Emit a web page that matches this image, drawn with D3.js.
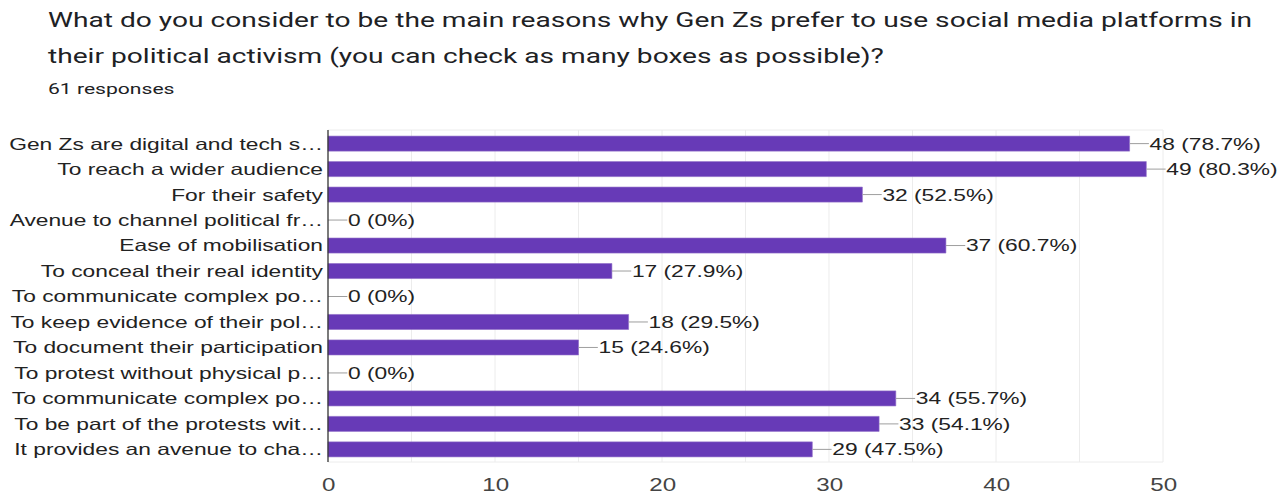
<!DOCTYPE html>
<html>
<head>
<meta charset="utf-8">
<script src="https://cdn.jsdelivr.net/npm/d3@7"></script>
<style>
  html, body { margin: 0; padding: 0; background: #fff; }
  svg { display: block; }
</style>
</head>
<body>
<svg id="chart"></svg>
<script>

// question text and response count
let title_lines = [
    "What do you consider to be the main reasons why Gen Zs prefer to use social media platforms in",
    "their political activism (you can check as many boxes as possible)?"
];
let responses_label = "61 responses";

// categories as they show on the chart (truncated ones keep the ellipsis)
let categories = [
    "Gen Zs are digital and tech s…",
    "To reach a wider audience",
    "For their safety",
    "Avenue to channel political fr…",
    "Ease of mobilisation",
    "To conceal their real identity",
    "To communicate complex po…",
    "To keep evidence of their pol…",
    "To document their participation",
    "To protest without physical p…",
    "To communicate complex po…",
    "To be part of the protests wit…",
    "It provides an avenue to cha…"
];
let counts = [48, 49, 32, 0, 37, 17, 0, 18, 15, 0, 34, 33, 29];
let percents = ["78.7%", "80.3%", "52.5%", "0%", "60.7%", "27.9%", "0%", "29.5%", "24.6%", "0%", "55.7%", "54.1%", "47.5%"];
let x_ticks = [0, 10, 20, 30, 40, 50];

const W = 1286, H = 495;
// the screenshot is stretched sideways, so draw in a narrower box and let the svg stretch it
const sx = 1.38;
const VW = W / sx;

let svg = d3.select("#chart")
    .attr("width", W)
    .attr("height", H)
    .attr("viewBox", "0 0 " + VW + " " + H)
    .attr("preserveAspectRatio", "none");

let rows = categories.map((c, i) => ({key: i, label: c, value: counts[i], pct: percents[i]}));

// scales
let x = d3.scaleLinear()
    .domain([0, 50])
    .range([328 / sx, 1163 / sx]);

let y = d3.scaleBand()
    .domain(rows.map(d => d.key))
    .range([131, 462])
    .paddingInner(0.41)
    .paddingOuter(0.2);

let plot_top = 130, plot_bottom = 462;

// title
svg.append("g").selectAll("text")
    .data(title_lines)
    .enter()
    .append("text")
      .attr("x", 48 / sx)
      .attr("y", (d, i) => 27 + i * 36)
      .style("font-family", "Roboto, 'Noto Sans', sans-serif")
      .style("font-size", "20.4px")
      .style("fill", "#202124")
      .text(d => d);

svg.append("text")
    .attr("x", 48 / sx)
    .attr("y", 94)
    .style("font-family", "Roboto, 'Noto Sans', sans-serif")
    .style("font-size", "15.3px")
    .style("fill", "#202124")
    .text(responses_label);

// grid lines every 5
let grid_vals = d3.range(5, 51, 5);
svg.append("g").selectAll("line")
    .data(grid_vals)
    .enter()
    .append("line")
      .attr("x1", d => x(d))
      .attr("x2", d => x(d))
      .attr("y1", plot_top)
      .attr("y2", plot_bottom)
      .attr("stroke", "#ececec")
      .attr("vector-effect", "non-scaling-stroke");

// top and bottom border of plot
svg.append("g").selectAll("line")
    .data([plot_top, plot_bottom])
    .enter()
    .append("line")
      .attr("x1", x(0))
      .attr("x2", x(50))
      .attr("y1", d => d)
      .attr("y2", d => d)
      .attr("stroke", "#ececec")
      .attr("vector-effect", "non-scaling-stroke");

// bars
svg.append("g").selectAll("rect")
    .data(rows.filter(d => d.value > 0))
    .enter()
    .append("rect")
      .attr("x", x(0))
      .attr("y", d => y(d.key))
      .attr("width", d => x(d.value) - x(0))
      .attr("height", y.bandwidth())
      .attr("fill", "#673ab7")
      .attr("stroke", "#8e6cc8")
      .attr("stroke-width", 0.6)
      .attr("vector-effect", "non-scaling-stroke");

// leader lines to value labels
svg.append("g").selectAll("line")
    .data(rows)
    .enter()
    .append("line")
      .attr("x1", d => x(d.value))
      .attr("x2", d => x(d.value) + 14)
      .attr("y1", d => y(d.key) + y.bandwidth() / 2)
      .attr("y2", d => y(d.key) + y.bandwidth() / 2)
      .attr("stroke", "#9e9e9e")
      .attr("vector-effect", "non-scaling-stroke");

svg.append("g").selectAll("text")
    .data(rows)
    .enter()
    .append("text")
      .attr("x", d => x(d.value) + 14.5)
      .attr("y", d => y(d.key) + y.bandwidth() / 2)
      .attr("dy", "0.36em")
      .style("font-family", "'Liberation Sans', Arial, sans-serif")
      .style("font-size", "16.5px")
      .style("fill", "#222")
      .text(d => d.value + " (" + d.pct + ")");

// category labels
svg.append("g").selectAll("text")
    .data(rows)
    .enter()
    .append("text")
      .attr("x", 323 / sx)
      .attr("y", d => y(d.key) + y.bandwidth() / 2)
      .attr("dy", "0.36em")
      .attr("text-anchor", "end")
      .style("font-family", "'Liberation Sans', Arial, sans-serif")
      .style("font-size", "16.5px")
      .style("fill", "#222")
      .text(d => d.label);

// zero axis line
svg.append("line")
    .attr("x1", x(0))
    .attr("x2", x(0))
    .attr("y1", plot_top)
    .attr("y2", plot_bottom)
    .attr("stroke", "#333")
    .attr("stroke-width", 1.3)
    .attr("vector-effect", "non-scaling-stroke");

// x axis tick labels
let xAxis = d3.axisBottom(x)
    .tickValues(x_ticks)
    .tickSize(0)
    .tickPadding(0);

let ax = svg.append("g")
    .attr("transform", "translate(0," + 474 + ")")
    .call(xAxis);
ax.select(".domain").remove();
ax.selectAll("text")
    .attr("dy", "0.95em")
    .style("font-family", "'Liberation Sans', Arial, sans-serif")
    .style("font-size", "17.5px")
    .style("fill", "#444");

</script>
</body>
</html>
